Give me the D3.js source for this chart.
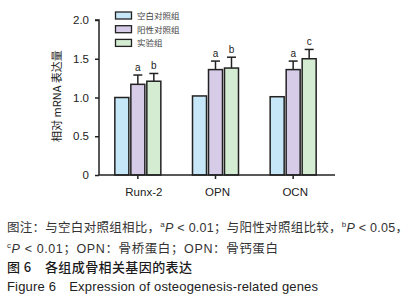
<!DOCTYPE html>
<html><head><meta charset="utf-8">
<script src="https://cdn.jsdelivr.net/npm/d3@7"></script>
<style>body{margin:0;background:#fff}svg{display:block}</style>
</head><body>
<script>
const genes = ["Runx-2", "OPN", "OCN"];
const groups = ["空白对照组", "阳性对照组", "实验组"];
const colors = ["#c6e7f7", "#d7cce8", "#d3ecd2"];
const means = [[1.00, 1.17, 1.21], [1.02, 1.36, 1.38], [1.01, 1.36, 1.50]];
const errs = [[0, 0.12, 0.10], [0, 0.11, 0.14], [0, 0.11, 0.12]];
const sigLetters = [["", "a", "b"], ["", "a", "b"], ["", "a", "c"]];
const yTicks = [0, 0.5, 1.0, 1.5, 2.0];
const yLabel = "相对 mRNA 表达量";

const W = 414, H = 300;
const svg = d3.select("body").append("svg").attr("width", W).attr("height", H);
const cjk = "'Noto Sans CJK SC', 'Noto Sans', sans-serif";
const sans = "'Liberation Sans', Arial, sans-serif";

const y = d3.scaleLinear().domain([0, 2]).range([175, 20]);
const x0 = d3.scaleBand().domain(genes).range([99, 332]);
const barW = 14, gap = 2;

// bars
genes.forEach((g, gi) => {
  const cx = x0(g) + x0.bandwidth() / 2;
  groups.forEach((grp, k) => {
    const bx = cx + (k - 1) * (barW + gap) - barW / 2;
    const v = means[gi][k];
    svg.append("rect").attr("x", bx).attr("y", y(v)).attr("width", barW).attr("height", y(0) - y(v))
      .attr("fill", colors[k]).attr("stroke", "#222").attr("stroke-width", 1.5);
    if (errs[gi][k] > 0) {
      const mx = bx + barW / 2, top = y(v + errs[gi][k]);
      svg.append("line").attr("x1", mx).attr("x2", mx).attr("y1", y(v)).attr("y2", top)
        .attr("stroke", "#222").attr("stroke-width", 1.5);
      svg.append("line").attr("x1", mx - 4.5).attr("x2", mx + 4.5).attr("y1", top).attr("y2", top)
        .attr("stroke", "#222").attr("stroke-width", 1.5);
    }
    if (sigLetters[gi][k]) {
      svg.append("text").attr("x", bx + barW / 2).attr("y", y(v + errs[gi][k]) - 4)
        .attr("text-anchor", "middle").attr("font-family", sans).attr("font-size", 10)
        .attr("fill", "#222").text(sigLetters[gi][k]);
    }
  });
});

// y axis
const yAxis = svg.append("g").attr("transform", "translate(99,0)")
  .call(d3.axisLeft(y).tickValues(yTicks).tickSize(4).tickPadding(6)
    .tickFormat(d => d === 0 ? "0" : d3.format(".1f")(d)));
yAxis.select(".domain").attr("stroke", "#222").attr("stroke-width", 1.5).attr("d", "M0,175V20H-4");
yAxis.selectAll(".tick line").attr("stroke", "#222").attr("stroke-width", 1.5);
yAxis.selectAll(".tick text").attr("font-family", sans).attr("font-size", 11.5).attr("fill", "#222");

// x axis
const xAxis = svg.append("g").attr("transform", "translate(0,175)")
  .call(d3.axisBottom(x0).tickSize(4).tickPadding(9));
xAxis.select(".domain").attr("stroke", "#222").attr("stroke-width", 1.5).attr("d", "M99,0H335");
xAxis.selectAll(".tick line").attr("stroke", "#222").attr("stroke-width", 1.5);
xAxis.selectAll(".tick text").attr("font-family", sans).attr("font-size", 11.5).attr("fill", "#222")
  .attr("dx", (d, i) => i === 0 ? 6 : 2);

// y label
svg.append("text").attr("transform", "translate(61,96) rotate(-90)").attr("text-anchor", "middle")
  .attr("font-family", cjk).attr("font-size", 11).attr("fill", "#222").text(yLabel);

// legend
groups.forEach((grp, k) => {
  const ly = 12 + k * 13.7;
  svg.append("rect").attr("x", 115.5).attr("y", ly).attr("width", 16).attr("height", 7)
    .attr("fill", colors[k]).attr("stroke", "#222").attr("stroke-width", 1.3);
  svg.append("text").attr("x", 137).attr("y", ly + 7).attr("font-family", cjk).attr("font-size", 8.5)
    .attr("fill", "#444").text(grp);
});

// caption
const cap = svg.append("g").attr("font-family", cjk).attr("fill", "#333");
function line(yy, parts, size, len) {
  const t = cap.append("text").attr("x", 7).attr("y", yy).attr("font-size", size || 12.5);
  if (len) t.attr("textLength", len).attr("lengthAdjust", "spacing");
  parts.forEach(p => {
    const s = t.append("tspan").text(p.t);
    if (p.sup) s.attr("font-size", 8).attr("dy", -4.5).attr("font-family", sans);
    if (p.it) s.attr("font-style", "italic").attr("font-family", sans).attr("dy", p.dy || 0);
    if (p.sans) s.attr("font-family", sans);
  });
  return t;
}
line(231.5, [{t: "图注：与空白对照组相比，"}, {t: "a", sup: true}, {t: "P", it: true, dy: 4.5}, {t: " < 0.01", sans: true},
  {t: "；与阳性对照组比较，"}, {t: "b", sup: true}, {t: "P", it: true, dy: 4.5}, {t: " < 0.05", sans: true}, {t: "，"}], 12.5, 401);
line(252.5, [{t: "c", sup: true}, {t: "P", it: true, dy: 4.5}, {t: " < 0.01", sans: true}, {t: "；"}, {t: "OPN", sans: true},
  {t: "：骨桥蛋白；"}, {t: "OPN", sans: true}, {t: "：骨钙蛋白"}], 12.5, 271);
line(271.5, [{t: "图 6　各组成骨相关基因的表达"}], 13, 185).attr("fill", "#1a1a1a").attr("font-weight", 500);
line(291, [{t: "Figure 6　Expression of osteogenesis-related genes", sans: true}], 13, 311).attr("fill", "#222");
</script>
</body></html>
